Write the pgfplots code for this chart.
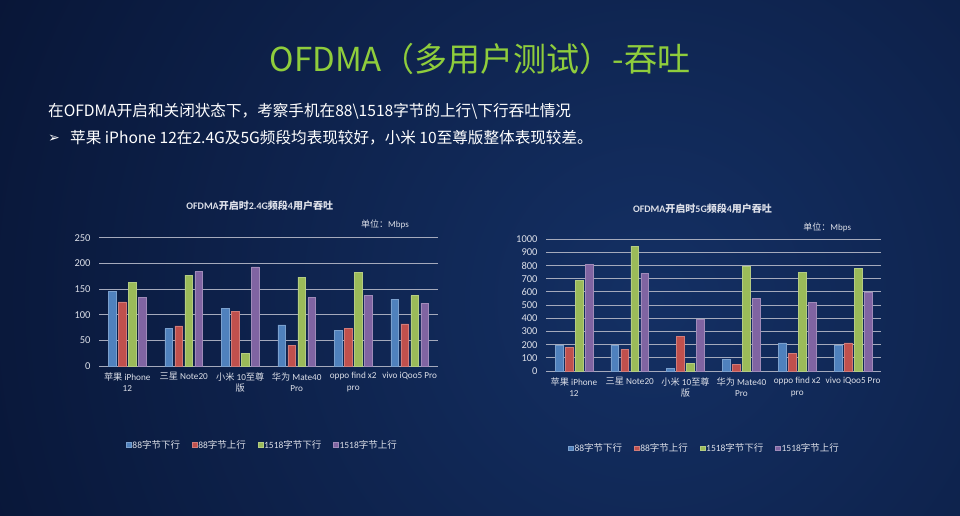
\documentclass[border=0pt]{standalone}
\usepackage{fontspec}
\setmainfont{Noto Sans CJK SC}
\newfontfamily\symfont{DejaVu Sans}
\newfontfamily\latf{Carlito}
\newfontfamily\cjkf{Noto Sans CJK SC}
\newXeTeXintercharclass\cjkcls
\newcount\cjkcnt
\cjkcnt="3000
\loop \XeTeXcharclass\cjkcnt=\cjkcls \advance\cjkcnt by 1 \ifnum\cjkcnt<"3040 \repeat
\cjkcnt="4E00
\loop \XeTeXcharclass\cjkcnt=\cjkcls \advance\cjkcnt by 1 \ifnum\cjkcnt<"A000 \repeat
\cjkcnt="FF00
\loop \XeTeXcharclass\cjkcnt=\cjkcls \advance\cjkcnt by 1 \ifnum\cjkcnt<"FFF0 \repeat
\XeTeXinterchartoks 0 \cjkcls = {\cjkf}
\XeTeXinterchartoks 4095 \cjkcls = {\cjkf}
\XeTeXinterchartoks \cjkcls 0 = {\latf}
\XeTeXinterchartoks \cjkcls 4095 = {\latf}
\newcommand\cf{\latf\XeTeXinterchartokenstate=1\relax}
\usepackage{pgfplots}
\pgfplotsset{compat=1.18}
\definecolor{bgdark}{RGB}{4,12,38}
\definecolor{bglight}{RGB}{20,48,100}
\definecolor{titlegreen}{RGB}{143,205,60}
\definecolor{cblue}{RGB}{79,129,189}
\definecolor{cred}{RGB}{192,80,77}
\definecolor{cgreen}{RGB}{155,187,89}
\definecolor{cpurple}{RGB}{128,100,162}
\definecolor{gridc}{RGB}{165,170,188}
\definecolor{labc}{RGB}{220,223,232}

\pgfplotsset{
  mybars/.style={
    ybar=2.3pt, bar width=7.7pt,
    scale only axis,
    enlargelimits=false,
    xmin=-0.5, xmax=5.5,
    xtick={0,...,5},
    xticklabels={{苹果 iPhone\\12},{三星 Note20},{小米 10至尊\\版},{华为 Mate40\\Pro},{oppo find x2\\pro},{vivo iQoo5 Pro}},
    xticklabel style={align=center, font=\cf\fontsize{9.2}{11.3}\selectfont, text=labc, yshift=-3pt},
    yticklabel style={font=\latf\fontsize{10.5}{12}\selectfont, text=labc, xshift=-5pt},
    /pgf/number format/.cd, set thousands separator={}, assume math mode=true, /pgfplots/.cd,
    axis line style={draw=none},
    major tick length=0pt,
    ymajorgrids, grid style={gridc, line width=1pt},
    legend columns=4,
    legend style={draw=none, fill=none, font=\cf\fontsize{9.5}{11}\selectfont, text=labc,
      nodes={inner xsep=1pt},
      /tikz/every even column/.append style={column sep=11pt}},
    every axis plot post/.append style={
      legend image code/.code={\fill[##1] (0pt,-2.4pt) rectangle (4.7pt,2.4pt);}},
  },
}

\begin{document}
\begin{tikzpicture}[x=1pt,y=1pt]
\fill[bgdark] (0,0) rectangle (960,515);
\begin{scope}
\clip (0,0) rectangle (960,515);
\shade[inner color=bglight, outer color=bgdark] (650,215) circle (1000);
\end{scope}

% title and text
\node[anchor=base, text=titlegreen, font=\fontsize{33}{38}\selectfont, inner sep=0pt] at (480,443) {OFDMA（多用户测试）-吞吐};
\node[anchor=base west, text=white, font=\fontsize{15.6}{19}\selectfont, inner sep=0pt] at (48,398) {在OFDMA开启和关闭状态下，考察手机在88\textbackslash 1518字节的上行\textbackslash 下行吞吐情况};
\node[anchor=base west, text=white, font=\symfont\fontsize{14}{16}\selectfont, inner sep=0pt] at (48,372) {➢};
\node[anchor=base west, text=white, font=\fontsize{15.6}{19}\selectfont, inner sep=0pt] at (70,371) {苹果 iPhone 12在2.4G及5G频段均表现较好，小米 10至尊版整体表现较差。};

% chart titles
\node[text=labc, font=\cf\fontsize{10}{12}\selectfont\bfseries] at (259.7,309) {OFDMA开启时2.4G频段4用户吞吐};
\node[text=labc, font=\cf\fontsize{9}{11}\selectfont] at (385,290.7) {单位：Mbps};
\node[text=labc, font=\cf\fontsize{10}{12}\selectfont\bfseries] at (702.5,306) {OFDMA开启时5G频段4用户吞吐};
\node[text=labc, font=\cf\fontsize{9}{11}\selectfont] at (827.3,287.7) {单位：Mbps};

% left chart
\begin{axis}[mybars,
  at={(99pt,149pt)}, anchor=south west,
  width=339pt, height=128.3pt,
  ymin=0, ymax=250, ytick={0,50,...,250},
  legend style={at={(0.481,-0.616)}, anchor=center}]
\addplot[fill=cblue, draw=cblue!75!white, line width=0.5pt] coordinates {(0,145) (1,73) (2,113) (3,80) (4,70) (5,130)};
\addplot[fill=cred, draw=cred!75!white, line width=0.5pt] coordinates {(0,125) (1,78) (2,106) (3,40) (4,73) (5,82)};
\addplot[fill=cgreen, draw=cgreen!75!white, line width=0.5pt] coordinates {(0,163) (1,177) (2,24) (3,173) (4,182) (5,137)};
\addplot[fill=cpurple, draw=cpurple!75!white, line width=0.5pt] coordinates {(0,133) (1,184) (2,193) (3,133) (4,138) (5,122)};
\legend{88字节下行,88字节上行,1518字节下行,1518字节上行}
\end{axis}

% right chart
\begin{axis}[mybars,
  at={(546pt,144pt)}, anchor=south west,
  width=335pt, height=131.7pt,
  ymin=0, ymax=1000, ytick={0,100,...,1000},
  legend style={at={(0.472,-0.587)}, anchor=center}]
\addplot[fill=cblue, draw=cblue!75!white, line width=0.5pt] coordinates {(0,197) (1,197) (2,20) (3,86) (4,213) (5,197)};
\addplot[fill=cred, draw=cred!75!white, line width=0.5pt] coordinates {(0,182) (1,162) (2,263) (3,53) (4,134) (5,213)};
\addplot[fill=cgreen, draw=cgreen!75!white, line width=0.5pt] coordinates {(0,691) (1,949) (2,56) (3,797) (4,747) (5,782)};
\addplot[fill=cpurple, draw=cpurple!75!white, line width=0.5pt] coordinates {(0,810) (1,742) (2,392) (3,554) (4,522) (5,597)};
\legend{88字节下行,88字节上行,1518字节下行,1518字节上行}
\end{axis}

\pgfresetboundingbox
\path[use as bounding box] (0,0) rectangle (960,515);
\end{tikzpicture}
\end{document}
